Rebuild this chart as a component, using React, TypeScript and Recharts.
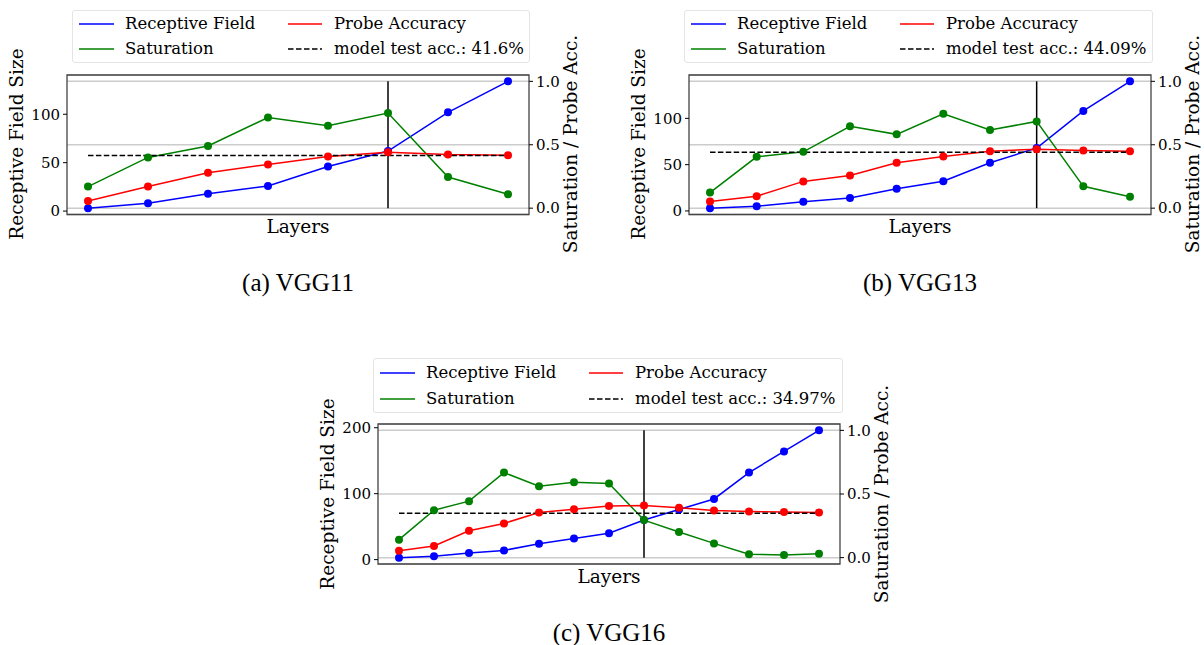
import React from 'react';
import { ComposedChart, Line, XAxis, YAxis, CartesianGrid, ReferenceLine, ReferenceArea } from 'recharts';

// VGG11
const vgg11Rf = [3, 8, 18, 26, 46, 62, 102, 134];
const vgg11Sat = [0.17, 0.4, 0.49, 0.715, 0.65, 0.75, 0.245, 0.11];
const vgg11Probe = [0.057, 0.17, 0.28, 0.345, 0.407, 0.44, 0.423, 0.418];
const vgg11Acc = 0.416;
const vgg11Cut = 5;

// VGG13
const vgg13Rf = [3, 5, 10, 14, 24, 32, 52, 68, 108, 140];
const vgg13Sat = [0.123, 0.405, 0.444, 0.645, 0.582, 0.744, 0.616, 0.684, 0.172, 0.09];
const vgg13Probe = [0.052, 0.094, 0.211, 0.258, 0.358, 0.407, 0.449, 0.465, 0.454, 0.449];
const vgg13Acc = 0.4409;
const vgg13Cut = 7;

// VGG16
const vgg16Rf = [3, 5, 10, 14, 24, 32, 40, 60, 76, 92, 132, 164, 196];
const vgg16Sat = [0.141, 0.373, 0.444, 0.668, 0.561, 0.593, 0.582, 0.295, 0.201, 0.112, 0.026, 0.021, 0.03];
const vgg16Probe = [0.055, 0.091, 0.211, 0.269, 0.355, 0.381, 0.405, 0.41, 0.392, 0.371, 0.363, 0.358, 0.355];
const vgg16Acc = 0.3497;
const vgg16Cut = 7;

const rfTicksSmall = [0, 50, 100];
const rfTicksLarge = [0, 100, 200];
const satTicks = [0, 0.5, 1];

const SERIF = '"DejaVu Serif", serif';
const TIMES = '"Liberation Serif", "Times New Roman", serif';
const BLUE = '#0000ff';
const GREEN = '#008000';
const RED = '#ff0000';

interface Frame { x: number; y: number; w: number; h: number }

interface PanelProps {
  rf: number[];
  sat: number[];
  probe: number[];
  acc: number;
  accLabel: string;
  cut: number;
  rfTicks: number[];
  frame: Frame;
  legend: { x: number; y: number; w: number; h: number };
  caption: string;
}

function LegendBox({ x, y, w, h, accLabel }: { x: number; y: number; w: number; h: number; accLabel: string }) {
  const row = (top: number, c1: string, t1: string, c2: string, t2: string, dashed: boolean) => (
    <>
      <svg style={{ position: 'absolute', left: 6, top: top - 5 }} width={36} height={10}>
        <line x1={0} y1={5} x2={35} y2={5} stroke={c1} strokeWidth={1.5} />
      </svg>
      <span style={{ position: 'absolute', left: 52, top: top - 11, lineHeight: '22px' }}>{t1}</span>
      <svg style={{ position: 'absolute', left: 215, top: top - 5 }} width={36} height={10}>
        <line x1={0} y1={5} x2={34} y2={5} stroke={c2} strokeWidth={1.5} strokeDasharray={dashed ? '5.5 2.5' : undefined} />
      </svg>
      <span style={{ position: 'absolute', left: 261, top: top - 11, lineHeight: '22px' }}>{t2}</span>
    </>
  );
  return (
    <div
      style={{
        position: 'absolute', left: x, top: y, width: w, height: h, boxSizing: 'border-box',
        border: '1px solid #e4e4e4', borderRadius: 3, background: '#fff',
        fontFamily: SERIF, fontSize: 16.5, color: '#000', whiteSpace: 'nowrap',
      }}
    >
      {row(h * 0.25, BLUE, 'Receptive Field', RED, 'Probe Accuracy', false)}
      {row(h * 0.72, GREEN, 'Saturation', '#000', accLabel, true)}
    </div>
  );
}

function Panel({ rf, sat, probe, acc, accLabel, cut, rfTicks, frame, legend, caption }: PanelProps) {
  const n = rf.length;
  const data = rf.map((v, i) => ({ layer: i, rf: v, sat: sat[i], probe: probe[i] }));
  const xm = 0.05 * (n - 1);
  const rMin = Math.min(...rf);
  const rMax = Math.max(...rf);
  const rm = 0.05 * (rMax - rMin);
  const satDomain: [number, number] = [-0.05, 1.05];
  const cx = frame.x + frame.w / 2;
  const cy = frame.y + frame.h / 2;
  const tickStyle = { fontSize: 15, fill: '#000', fontFamily: SERIF };
  const label = (text: string, x: number, y: number, rotate: boolean) => (
    <div
      style={{
        position: 'absolute', left: x, top: y, transform: `translate(-50%, -50%)${rotate ? ' rotate(-90deg)' : ''}`,
        fontFamily: SERIF, fontSize: 18.5, whiteSpace: 'nowrap', lineHeight: 1,
      }}
    >
      {text}
    </div>
  );
  return (
    <>
      <div style={{ position: 'absolute', left: frame.x - 60, top: frame.y - 10 }}>
        <ComposedChart
          width={frame.w + 120}
          height={frame.h + 20}
          data={data}
          margin={{ top: 10, right: 10, bottom: 10, left: 10 }}
        >
          <CartesianGrid yAxisId="sat" vertical={false} stroke="#cccccc" strokeWidth={1.5} />
          <XAxis dataKey="layer" type="number" domain={[-xm, n - 1 + xm]} allowDataOverflow hide />
          <YAxis
            yAxisId="rf"
            orientation="left"
            width={50}
            domain={[rMin - rm, rMax + rm]}
            allowDataOverflow
            ticks={rfTicks}
            tick={tickStyle}
            tickSize={4}
            tickMargin={3}
            tickLine={{ stroke: '#000' }}
            axisLine={false}
          />
          <YAxis
            yAxisId="sat"
            orientation="right"
            width={50}
            domain={satDomain}
            allowDataOverflow
            ticks={satTicks}
            tickFormatter={(v: number) => v.toFixed(1)}
            tick={tickStyle}
            tickSize={4}
            tickMargin={3}
            tickLine={{ stroke: '#000' }}
            axisLine={false}
          />
          <Line yAxisId="rf" dataKey="rf" stroke={BLUE} strokeWidth={1.5} dot={{ r: 4, fill: BLUE, stroke: BLUE, strokeWidth: 0 }} isAnimationActive={false} />
          <Line yAxisId="sat" dataKey="sat" stroke={GREEN} strokeWidth={1.5} dot={{ r: 4, fill: GREEN, stroke: GREEN, strokeWidth: 0 }} isAnimationActive={false} />
          <Line yAxisId="sat" dataKey="probe" stroke={RED} strokeWidth={1.5} dot={{ r: 4, fill: RED, stroke: RED, strokeWidth: 0 }} isAnimationActive={false} />
          <ReferenceLine yAxisId="sat" segment={[{ x: 0, y: acc }, { x: n - 1, y: acc }]} stroke="#000" strokeWidth={1.5} strokeDasharray="5.5 2.4" />
          <ReferenceLine yAxisId="sat" segment={[{ x: cut, y: 0 }, { x: cut, y: 1 }]} stroke="#000" strokeWidth={1.5} />
          <ReferenceArea yAxisId="sat" x1={-xm} x2={n - 1 + xm} y1={satDomain[0]} y2={satDomain[1]} fill="none" stroke="#444" strokeWidth={1.3} />
        </ComposedChart>
      </div>
      <LegendBox x={legend.x} y={legend.y} w={legend.w} h={legend.h} accLabel={accLabel} />
      {label('Receptive Field Size', frame.x - 50, cy, true)}
      {label('Saturation / Probe Acc.', frame.x + frame.w + 42, cy, true)}
      {label('Layers', cx, frame.y + frame.h + 13, false)}
      <div
        style={{
          position: 'absolute', left: cx, top: frame.y + frame.h + 68, transform: 'translate(-50%, -50%)',
          fontFamily: TIMES, fontSize: 25, whiteSpace: 'nowrap', lineHeight: 1,
        }}
      >
        {caption}
      </div>
    </>
  );
}

export default function App() {
  return (
    <div style={{ position: 'absolute', left: 0, top: 0, width: 1204, height: 645, background: '#fff', overflow: 'hidden' }}>
      <Panel
        rf={vgg11Rf} sat={vgg11Sat} probe={vgg11Probe} acc={vgg11Acc} accLabel="model test acc.: 41.6%" cut={vgg11Cut}
        rfTicks={rfTicksSmall}
        frame={{ x: 67, y: 74.5, w: 462, h: 139.5 }}
        legend={{ x: 72, y: 10, w: 458, h: 53 }}
        caption="(a) VGG11"
      />
      <Panel
        rf={vgg13Rf} sat={vgg13Sat} probe={vgg13Probe} acc={vgg13Acc} accLabel="model test acc.: 44.09%" cut={vgg13Cut}
        rfTicks={rfTicksSmall}
        frame={{ x: 689, y: 74.5, w: 462, h: 139.5 }}
        legend={{ x: 684, y: 10, w: 469, h: 53 }}
        caption="(b) VGG13"
      />
      <Panel
        rf={vgg16Rf} sat={vgg16Sat} probe={vgg16Probe} acc={vgg16Acc} accLabel="model test acc.: 34.97%" cut={vgg16Cut}
        rfTicks={rfTicksLarge}
        frame={{ x: 378, y: 423.5, w: 462, h: 140 }}
        legend={{ x: 373, y: 358, w: 470, h: 55 }}
        caption="(c) VGG16"
      />
    </div>
  );
}
